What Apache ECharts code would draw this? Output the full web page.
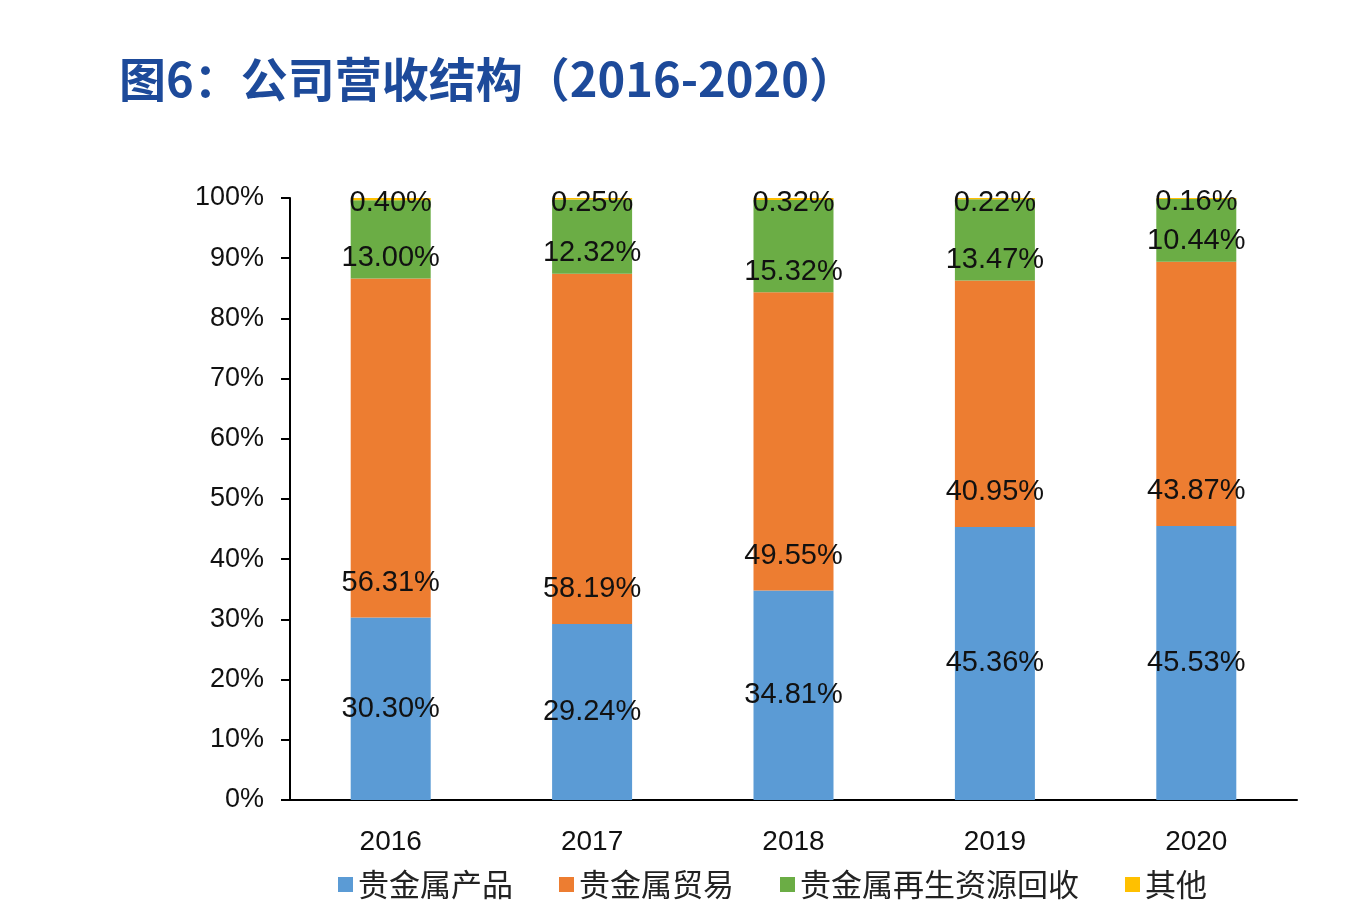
<!DOCTYPE html>
<html><head><meta charset="utf-8">
<script src="https://cdn.jsdelivr.net/npm/echarts@6/dist/echarts.min.js"></script>
<style>html,body{margin:0;padding:0;background:#fff}#c{width:1360px;height:924px}</style>
</head><body><div id="c"></div>
<script>
const categories = ['2016','2017','2018','2019','2020'];
const seriesNames = ['贵金属产品','贵金属贸易','贵金属再生资源回收','其他'];
const productVals = [30.30, 29.24, 34.81, 45.36, 45.53];
const tradeVals = [56.31, 58.19, 49.55, 40.95, 43.87];
const recycleVals = [13.00, 12.32, 15.32, 13.47, 10.44];
const otherVals = [0.40, 0.25, 0.32, 0.22, 0.16];
const colors = ['#5B9BD5','#ED7D31','#6BAD45','#FFC000'];

const chart = echarts.init(document.getElementById('c'));
const lblBase = {show:true, color:'#111', fontSize:29, fontFamily:'Liberation Sans, Arial, sans-serif',
  formatter: p => p.value.toFixed(2) + '%'};
chart.setOption({
  animation:false,
  color: colors,
  title:{text:'图6：公司营收结构（2016-2020）', left:114, top:51,
    textStyle:{fontSize:47, fontWeight:'bold', color:'#1D4A9A', fontFamily:'Noto Sans CJK SC'}},
  grid:{left:290, right:63, top:198, bottom:124, containLabel:false},
  legend:{left:333, top:864, itemWidth:15, itemHeight:15, itemGap:46, icon:'rect',
    textStyle:{fontSize:31, color:'#222', fontFamily:'Noto Sans CJK SC'}, data:seriesNames},
  xAxis:{type:'category', data:categories,
    axisLine:{lineStyle:{color:'#000', width:2}}, axisTick:{show:false},
    axisLabel:{fontSize:28, color:'#111', margin:28, fontFamily:'Liberation Sans, Arial, sans-serif'}},
  yAxis:{type:'value', min:0, max:100, interval:10,
    axisLine:{show:true, lineStyle:{color:'#000', width:2}},
    axisTick:{show:true, length:9, lineStyle:{color:'#000', width:2}},
    splitLine:{show:false},
    axisLabel:{formatter:'{value}%', fontSize:27, color:'#111', margin:26, fontFamily:'Liberation Sans, Arial, sans-serif'}},
  series:[
    {name:seriesNames[0], type:'bar', stack:'a', barWidth:80, data:productVals,
      label:Object.assign({}, lblBase, {position:'inside'})},
    {name:seriesNames[1], type:'bar', stack:'a', barWidth:80, data:tradeVals,
      label:Object.assign({}, lblBase, {position:'insideBottom', distance:20})},
    {name:seriesNames[2], type:'bar', stack:'a', barWidth:80, data:recycleVals,
      label:Object.assign({}, lblBase, {position:'insideBottom', distance:6})},
    {name:seriesNames[3], type:'bar', stack:'a', barWidth:80, data:otherVals,
      label:Object.assign({}, lblBase, {position:'inside', offset:[0,4]})}
  ]
});
</script></body></html>
